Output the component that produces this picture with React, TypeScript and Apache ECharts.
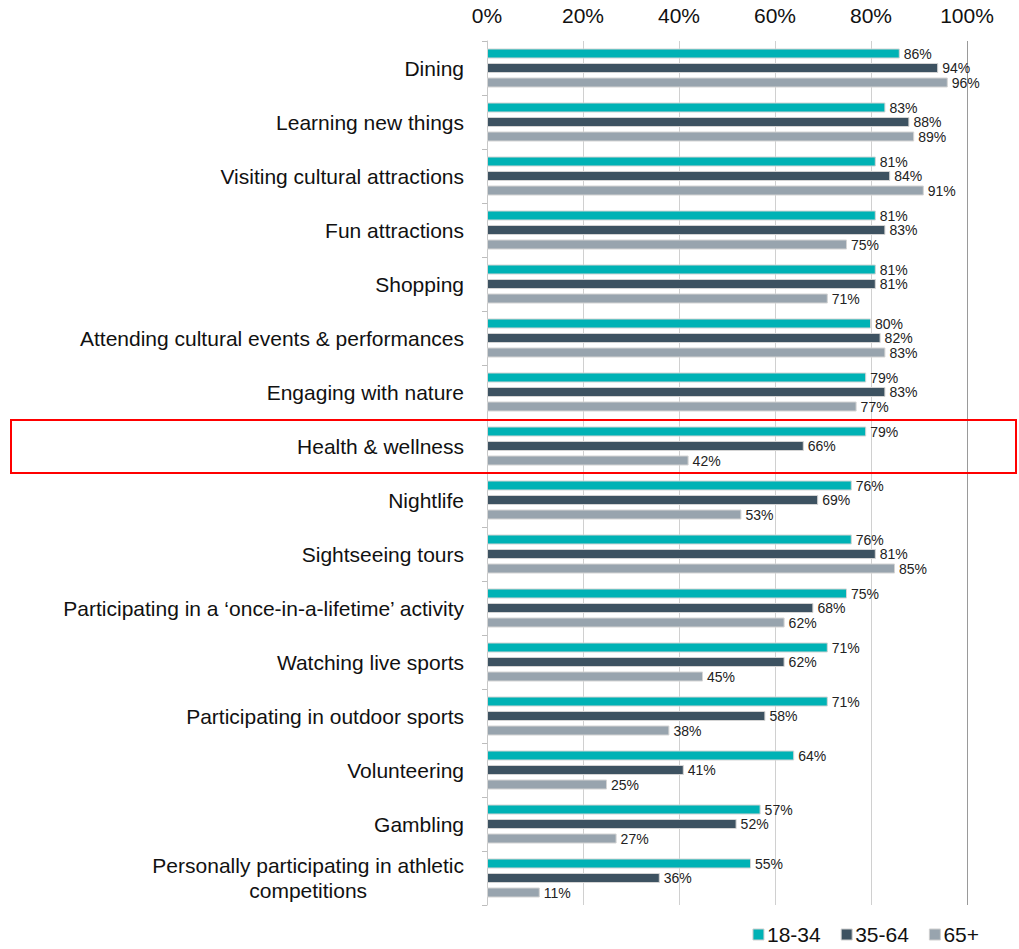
import React, { useEffect, useRef } from "react";
import * as echarts from "echarts";

const categories = [
  "Dining",
  "Learning new things",
  "Visiting cultural attractions",
  "Fun attractions",
  "Shopping",
  "Attending cultural events & performances",
  "Engaging with nature",
  "Health & wellness",
  "Nightlife",
  "Sightseeing tours",
  "Participating in a \u2018once-in-a-lifetime\u2019 activity",
  "Watching live sports",
  "Participating in outdoor sports",
  "Volunteering",
  "Gambling",
  "Personally participating in athletic competitions",
];

const seriesNames = ["18-34", "35-64", "65+"];
const values1834 = [86, 83, 81, 81, 81, 80, 79, 79, 76, 76, 75, 71, 71, 64, 57, 55];
const values3564 = [94, 88, 84, 83, 81, 82, 83, 66, 69, 81, 68, 62, 58, 41, 52, 36];
const values65 = [96, 89, 91, 75, 71, 83, 77, 42, 53, 85, 62, 45, 38, 25, 27, 11];
const xTicks = [0, 20, 40, 60, 80, 100];

const colors = ["#00b2b5", "#3d5261", "#98a4ae"];

export default function App() {
  const ref = useRef<HTMLDivElement>(null);
  useEffect(() => {
    const chart = echarts.init(ref.current!, undefined, { renderer: "svg" });
    const font = "'Liberation Sans', Arial, Helvetica, sans-serif";
    const allValues = [values1834, values3564, values65];
    chart.setOption({
      animation: false,
      textStyle: { fontFamily: font },
      grid: { left: 487, right: 52, top: 41, bottom: 44, containLabel: false },
      legend: {
        data: seriesNames,
        bottom: -1,
        right: 35,
        icon: "rect",
        itemWidth: 11,
        itemHeight: 11,
        itemGap: 20,
        textStyle: { fontSize: 21, color: "#111", fontFamily: font, padding: [0, 0, 0, -2] },
        itemStyle: { borderColor: "#cfcfcf", borderWidth: 1 },
      },
      xAxis: {
        type: "value",
        position: "top",
        min: xTicks[0],
        max: xTicks[xTicks.length - 1],
        interval: 20,
        axisLine: { show: false },
        axisTick: { show: false },
        axisLabel: {
          formatter: "{value}%",
          fontSize: 21,
          color: "#111",
          margin: 15,
          fontFamily: font,
        },
        splitLine: {
          show: true,
          lineStyle: { color: ["#d0d0d0", "#d0d0d0", "#d0d0d0", "#d0d0d0", "#d0d0d0", "#9a9a9a"], width: 1 },
        },
      },
      yAxis: {
        type: "category",
        inverse: true,
        data: categories,
        axisLine: { show: true, lineStyle: { color: "#c8c8c8" } },
        axisTick: { show: true, length: 5, lineStyle: { color: "#bdbdbd" } },
        axisLabel: {
          fontSize: 21,
          color: "#111",
          margin: 23,
          fontFamily: font,
          formatter: (v: string) => {
            if (v.startsWith("Personally")) {
              return "{c|Personally participating in athletic}\n{c|competitions}";
            }
            return v;
          },
          rich: {
            c: { align: "center", fontSize: 21, color: "#111", fontFamily: font, lineHeight: 25 },
          },
        },
      },
      series: seriesNames.map((name, i) => ({
        name,
        type: "bar",
        data: allValues[i],
        barWidth: 10,
        barGap: "45%",
        itemStyle: { color: colors[i], borderColor: "#d4d4d4", borderWidth: 1 },
        label: {
          show: true,
          position: "right",
          distance: 4,
          formatter: "{c}%",
          fontSize: 14,
          lineHeight: 13,
          color: "#222",
          fontFamily: font,
        },
      })),
      graphic: [
        {
          type: "rect",
          shape: { x: 11, y: 420, width: 1005, height: 53 },
          style: { fill: "none", stroke: "#ff0000", lineWidth: 2 },
          z: 100,
        },
      ],
    });
    return () => chart.dispose();
  }, []);
  return <div ref={ref} style={{ width: 1019, height: 949, position: "absolute", left: 0, top: 0 }} />;
}
